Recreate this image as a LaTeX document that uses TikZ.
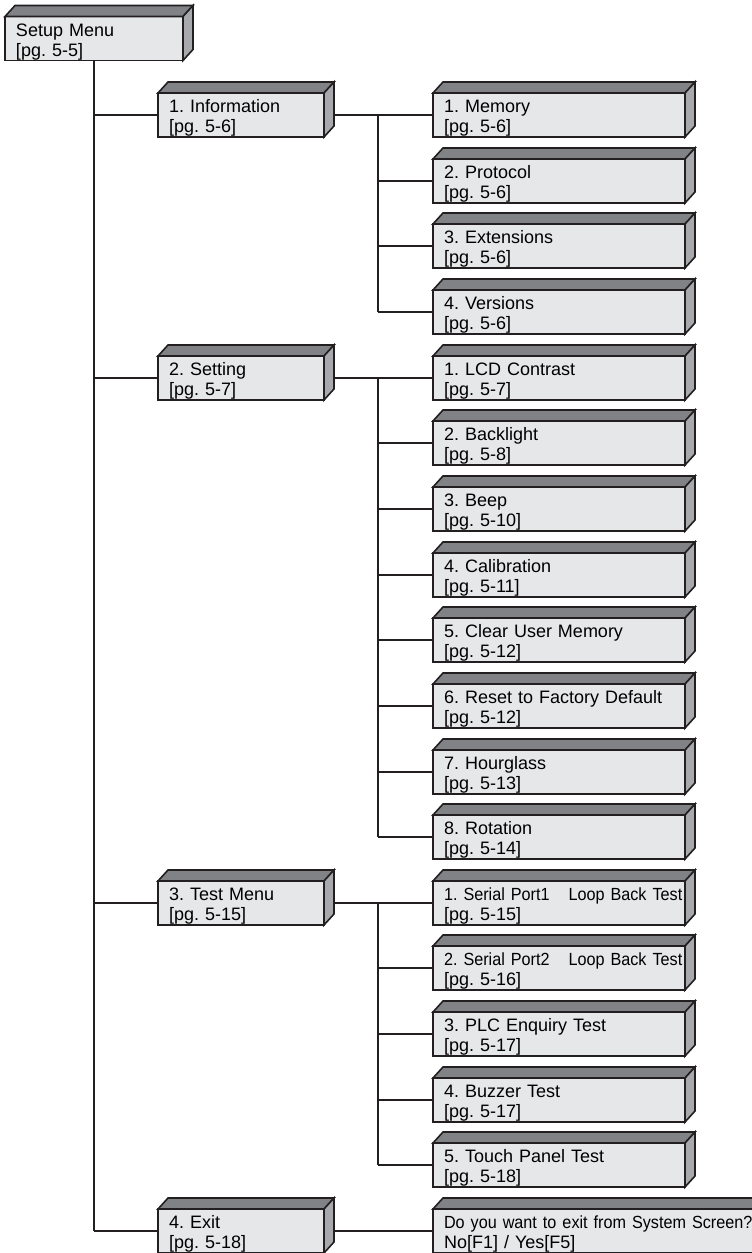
\documentclass[tikz,border=0pt]{standalone}
\usepackage{fontspec}
\setmainfont{Liberation Sans}
\frenchspacing

\definecolor{boxfront}{HTML}{E6E7E8}
\definecolor{boxtopgray}{HTML}{808285}
\definecolor{boxsidegray}{HTML}{A7A9AC}
\definecolor{boxline}{HTML}{231F20}

\newcommand{\menufont}{\fontsize{18}{20}\selectfont\frenchspacing}
\newcommand{\narrowfont}{\fontsize{17.6}{20}\selectfont\addfontfeatures{FakeStretch=0.92}}
\newcommand{\pgref}[1]{\relax[pg. #1]}

\tikzset{
  menubox/.style={rectangle, draw=boxline, line width=1.6pt, fill=boxfront,
    outer sep=0pt, inner xsep=11pt, inner ysep=0pt,
    text height=19.5pt, text depth=24.5pt, align=left, font=\menufont},
  lvlzero/.style={menubox, text width=156pt},
  lvlone/.style={menubox, text width=144pt},
  lvltwo/.style={menubox, text width=230pt},
  boxtop/.style={draw=boxline, line width=1.6pt, fill=boxtopgray},
  boxside/.style={draw=boxline, line width=1.6pt, fill=boxsidegray},
  link/.style={draw=boxline, line width=1.3pt}
}

\begin{document}
\begin{tikzpicture}[x=1pt, y=-1pt]
    \useasboundingbox (0,0) rectangle (752,1253);

    % Root
    \node[lvlzero] (setup) at (94, 38.5) {Setup Menu\\\pgref{5-5}};

    % Level 1
    \node[lvlone] (info) at (241, 115) {1. Information\\\pgref{5-6}};
    \node[lvlone] (setting) at (241, 378) {2. Setting\\\pgref{5-7}};
    \node[lvlone] (testmenu) at (241, 903) {3. Test Menu\\\pgref{5-15}};
    \node[lvlone] (exitmenu) at (241, 1231) {4. Exit\\\pgref{5-18}};

    % Level 2 - Information
    \node[lvltwo] (memory) at (559, 115) {1. Memory\\\pgref{5-6}};
    \node[lvltwo] (protocol) at (559, 181) {2. Protocol\\\pgref{5-6}};
    \node[lvltwo] (extensions) at (559, 246) {3. Extensions\\\pgref{5-6}};
    \node[lvltwo] (versions) at (559, 312) {4. Versions\\\pgref{5-6}};

    % Level 2 - Setting
    \node[lvltwo] (lcd) at (559, 378) {1. LCD Contrast\\\pgref{5-7}};
    \node[lvltwo] (backlight) at (559, 443) {2. Backlight\\\pgref{5-8}};
    \node[lvltwo] (beep) at (559, 509) {3. Beep\\\pgref{5-10}};
    \node[lvltwo] (calib) at (559, 575) {4. Calibration\\\pgref{5-11}};
    \node[lvltwo] (clearmem) at (559, 640) {5. Clear User Memory\\\pgref{5-12}};
    \node[lvltwo] (reset) at (559, 706) {6. Reset to Factory Default\\\pgref{5-12}};
    \node[lvltwo] (hourglass) at (559, 772) {7. Hourglass\\\pgref{5-13}};
    \node[lvltwo] (rotation) at (559, 837) {8. Rotation\\\pgref{5-14}};

    % Level 2 - Test Menu
    \node[lvltwo] (serial1) at (559, 903)
        {\mbox{\narrowfont 1. Serial Port1\hspace{19pt}Loop Back Test}\\\pgref{5-15}};
    \node[lvltwo] (serial2) at (559, 968)
        {\mbox{\narrowfont 2. Serial Port2\hspace{19pt}Loop Back Test}\\\pgref{5-16}};
    \node[lvltwo] (plc) at (559, 1034) {3. PLC Enquiry Test\\\pgref{5-17}};
    \node[lvltwo] (buzzer) at (559, 1100) {4. Buzzer Test\\\pgref{5-17}};
    \node[lvltwo] (touch) at (559, 1165) {5. Touch Panel Test\\\pgref{5-18}};

    % Level 2 - Exit
    \node[menubox, text width=318pt] (exitask) at (603, 1231)
        {\mbox{\narrowfont Do you want to exit from System Screen?}\\No[F1] / Yes[F5]};

    % Branch x positions
    \coordinate (brx) at (378, 0);

    % Trunk
    \draw[link] (setup.south) -- (setup.south |- exitmenu.west);
    \foreach \n in {info, setting, testmenu, exitmenu}
        \draw[link] (setup.south |- \n.west) -- (\n.west);

    % Information branch
    \draw[link] (info.east) -- (memory.west);
    \draw[link] (info.east -| brx) -- (versions.west -| brx);
    \foreach \n in {protocol, extensions, versions}
        \draw[link] (\n.west -| brx) -- (\n.west);

    % Setting branch
    \draw[link] (setting.east) -- (lcd.west);
    \draw[link] (setting.east -| brx) -- (rotation.west -| brx);
    \foreach \n in {backlight, beep, calib, clearmem, reset, hourglass, rotation}
        \draw[link] (\n.west -| brx) -- (\n.west);

    % Test branch
    \draw[link] (testmenu.east) -- (serial1.west);
    \draw[link] (testmenu.east -| brx) -- (touch.west -| brx);
    \foreach \n in {serial2, plc, buzzer, touch}
        \draw[link] (\n.west -| brx) -- (\n.west);

    % Exit
    \draw[link] (exitmenu.east) -- (exitask.west);

    % 3D faces
    \foreach \n in {setup, info, setting, testmenu, exitmenu,
                    memory, protocol, extensions, versions,
                    lcd, backlight, beep, calib, clearmem, reset, hourglass, rotation,
                    serial1, serial2, plc, buzzer, touch, exitask} {
        \filldraw[boxtop] (\n.north west) -- ++(10,-11)
            -- ([shift={(10,-11)}]\n.north east) -- (\n.north east) -- cycle;
        \filldraw[boxside] (\n.north east) -- ++(10,-11)
            -- ([shift={(10,-11)}]\n.south east) -- (\n.south east) -- cycle;
    }
\end{tikzpicture}
\end{document}
